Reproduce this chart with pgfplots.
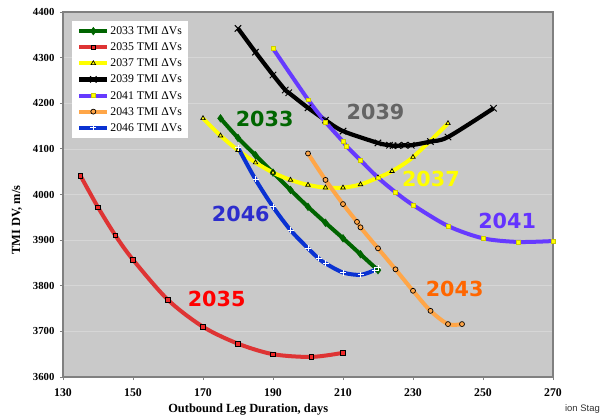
\documentclass[border=0pt]{standalone}
\usepackage{pgfplots}
\pgfplotsset{compat=1.18}
\usepackage{fontspec}
\setmainfont{Liberation Serif}
\newfontfamily\labelfont{DejaVu Sans}
\newfontfamily\smallsans{Liberation Sans}
\definecolor{bgc}{RGB}{201,201,201}
\definecolor{gridc}{RGB}{214,214,214}
\definecolor{framec}{RGB}{128,128,128}
\definecolor{c33}{RGB}{0,100,0}
\definecolor{c35}{RGB}{222,52,52}
\definecolor{m35}{RGB}{240,40,40}
\definecolor{c37}{RGB}{255,255,0}
\definecolor{c41}{RGB}{102,58,255}
\definecolor{c43}{RGB}{255,166,72}
\definecolor{c46}{RGB}{10,50,210}
\definecolor{l33}{RGB}{0,102,0}
\definecolor{l35}{RGB}{255,0,0}
\definecolor{l37}{RGB}{255,255,0}
\definecolor{l39}{RGB}{100,100,100}
\definecolor{l41}{RGB}{100,51,255}
\definecolor{l43}{RGB}{255,102,0}
\definecolor{l46}{RGB}{45,45,205}
\begin{document}
\begin{tikzpicture}
\path[use as bounding box] (0,0) rectangle (600bp,416bp);
\begin{axis}[
  at={(63bp,39bp)}, anchor=south west,
  width=490bp, height=365bp, scale only axis,
  xmin=130, xmax=270, ymin=3600, ymax=4400,
  xtick={130,150,...,270}, ytick={3600,3700,...,4400},
  axis background/.style={fill=bgc},
  axis line style={draw=framec, line width=1.2bp},
  ymajorgrids, grid style={draw=gridc, line width=0.6bp},
  tick style={draw=framec, line width=0.8bp},
  major tick length=3bp, tick align=outside, tick pos=left,
  xticklabel style={font=\bfseries\fontsize{11.8}{12}\selectfont, yshift=-5bp},
  yticklabel style={font=\bfseries\fontsize{10.8}{12}\selectfont, xshift=-2bp},
  /pgf/number format/assume math mode=true,
  /pgf/number format/1000 sep={},
  xlabel={Outbound Leg Duration, days},
  ylabel={TMI DV, m/s},
  every axis x label/.style={at={(axis description cs:0.378,-0.088)},anchor=center,font=\bfseries\fontsize{12.5}{14}\selectfont},
  every axis y label/.style={at={(axis description cs:-0.094,0.43)},rotate=90,anchor=center,font=\bfseries\fontsize{12.5}{14}\selectfont},
  legend style={at={(axis description cs:0.0184,0.975)},anchor=north west, draw=none, fill=white,
    font=\fontsize{11.8}{13}\selectfont, inner xsep=5bp, inner ysep=3.3bp,
    nodes={inner sep=1bp, text height=9bp, text depth=2bp}, row sep=3.1bp},
  legend cell align=left,
  legend image code/.code={\draw[mark repeat=2,mark phase=2,#1] plot coordinates {(0bp,0bp) (14bp,0bp) (28bp,0bp)};},
  clip=false,
  every axis plot/.append style={smooth, tension=0.5},
]
\addplot[c33, line width=4bp, mark=diamond*, mark size=3.8bp, mark options={solid, line width=0.5bp, fill=c33, draw=c33}] coordinates {
(175,4167)(180,4124)(185,4086)(190,4048)(195,4010)(200,3973)(205,3938)(210,3904)(215,3869)(220,3834)};
\addlegendentry{2033 TMI ΔVs}
\addplot[c35, line width=4bp, mark=square*, mark size=2.2bp, mark options={solid, line width=0.7bp, fill=m35, draw=black}] coordinates {
(135,4041)(140,3972)(145,3910)(150,3857)(160,3769)(170,3710)(180,3673)(190,3650)(201,3644)(210,3653)};
\addlegendentry{2035 TMI ΔVs}
\addplot[c37, line width=4bp, mark=triangle*, mark size=2.6bp, mark options={solid, line width=0.7bp, fill=c37, draw=black}] coordinates {
(170,4167)(175,4129)(180,4097)(185,4070)(190,4048)(195,4032)(200,4021)(205,4015)(210,4015)(215,4022)(220,4037)(224,4051)(230,4082)(240,4156)};
\addlegendentry{2037 TMI ΔVs}
\addplot[black, line width=4.2bp, mark=x, mark size=4.5bp, mark options={solid, line width=1bp, draw=black}] coordinates {
(180,4364)(185,4312)(190,4262)(193.5,4229)(194.5,4223)(200,4190)(205,4163)(210,4139)(220,4113)(223.3,4108)(224.3,4107)(225.7,4107)(227.6,4108)(229.5,4108)(235,4116)(240,4126)(253,4189)};
\addlegendentry{2039 TMI ΔVs}
\addplot[c41, line width=4bp, mark=square*, mark size=1.9bp, mark options={solid, line width=0.4bp, fill=c37, draw=c37!80!black}] coordinates {
(190,4320)(200,4208)(205,4159)(210,4116)(211,4106)(215,4075)(220,4037)(225,4005)(230,3977)(240,3931)(250,3904)(260,3896)(270,3898)};
\addlegendentry{2041 TMI ΔVs}
\addplot[c43, line width=4bp, mark=*, mark size=2.5bp, mark options={solid, line width=0.7bp, fill=c43, draw=black}] coordinates {
(200,4090)(205,4032)(210,3979)(214,3940)(215,3928)(220,3882)(225,3836)(230,3789)(235,3745)(240,3716)(244,3716)};
\addlegendentry{2043 TMI ΔVs}
\addplot[c46, line width=4bp, mark=+, mark size=3bp, mark options={solid, line width=1bp, draw=white}] coordinates {
(180,4103)(185,4033)(190,3973)(195,3922)(200,3882)(203,3860)(205,3849)(210,3829)(215,3824)(219,3834)(220,3839)};
\addlegendentry{2046 TMI ΔVs}
\begin{scope}[every node/.style={font=\labelfont\bfseries\fontsize{20.8}{24}\selectfont, inner sep=0pt}]
\node[text=l33] at (axis cs:187.6,4165) {2033};
\node[text=l39] at (axis cs:219.3,4180) {2039};
\node[text=l37] at (axis cs:235.1,4034) {2037};
\node[text=l41] at (axis cs:256.9,3942) {2041};
\node[text=l46] at (axis cs:180.8,3957) {2046};
\node[text=l35] at (axis cs:173.9,3771) {2035};
\node[text=l43] at (axis cs:241.9,3794) {2043};
\end{scope}
\end{axis}
\node[anchor=south east, inner sep=0pt, font=\smallsans\fontsize{9.5}{10}\selectfont, text=black!80] at (600bp,2bp) {ion Stag};
\end{tikzpicture}
\end{document}
